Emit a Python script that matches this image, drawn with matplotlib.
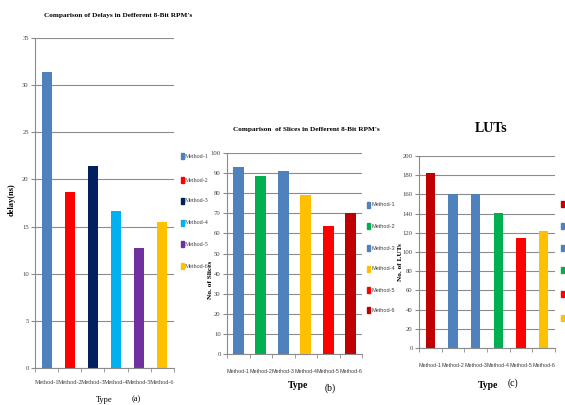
import matplotlib.pyplot as plt
from matplotlib.patches import Rectangle

W, H = 565, 405

methods = ["Method-1", "Method-2", "Method-3", "Method-4", "Method-5", "Method-6"]

# (a) delays
delay = [31.4, 18.7, 21.4, 16.6, 12.7, 15.5]
delay_colors = ["#4F81BD", "#FF0000", "#002060", "#00B0F0", "#7030A0", "#FFC000"]

# (b) slices
slices = [93, 88.5, 91, 79, 63.5, 70]
slice_colors = ["#4F81BD", "#00B050", "#4F81BD", "#FFC000", "#FF0000", "#C00000"]

# (c) LUTs
luts = [182, 160, 160, 141, 115, 122]
lut_colors = ["#C00000", "#4F81BD", "#4F81BD", "#00B050", "#FF0000", "#FFC000"]

serif = "Liberation Serif"
sans = "Liberation Sans"

fig = plt.figure(figsize=(W / 100, H / 100), dpi=100)


def px_axes(left, top, right, bottom):
    return fig.add_axes([left / W, 1 - bottom / H, (right - left) / W, (bottom - top) / H])


def style(ax, ymax, step, tickfont, tfs, pad):
    ax.set_ylim(0, ymax)
    ax.set_xlim(-0.5, 5.5)
    ax.set_yticks(range(0, ymax + 1, step))
    ax.yaxis.grid(True, color="#8c8c8c", linewidth=0.8)
    ax.set_axisbelow(True)
    for s in ["top", "right"]:
        ax.spines[s].set_visible(False)
    for s in ["left", "bottom"]:
        ax.spines[s].set_color("#8c8c8c")
        ax.spines[s].set_linewidth(0.8)
    ax.set_xticks(range(6))
    ax.set_xticklabels(methods, fontsize=tfs, family=tickfont, color="#404040")
    ax.set_xticks([i + 0.5 for i in range(-1, 6)], minor=True)
    ax.tick_params(axis="x", which="major", length=0, pad=pad)
    ax.tick_params(axis="x", which="minor", length=3, color="#8c8c8c")
    ax.tick_params(axis="y", length=3, color="#8c8c8c", labelsize=4.8, pad=1.5,
                   labelcolor="#404040")
    for lab in ax.get_yticklabels():
        lab.set_family(serif)


def legend(x, ys, labels, colors, fs=4.6, font=serif):
    for y, lab, c in zip(ys, labels, colors):
        fig.patches.append(Rectangle((x / W, 1 - (y + 3) / H), 3 / W, 6 / H,
                                     color=c, transform=fig.transFigure))
        fig.text((x + 4) / W, 1 - y / H, lab, fontsize=fs, family=font,
                 va="center", ha="left", color="#404040")


# panel (a)
ax1 = px_axes(35, 38, 174, 368)
ax1.bar(range(6), delay, width=0.43, color=delay_colors)
style(ax1, 35, 5, serif, 4.4, 9)
fig.text(118 / W, 1 - 16 / H, "Comparison of Delays in Defferent 8-Bit RPM's",
         fontsize=5.2, family=serif, ha="center", va="center", fontweight="bold")
fig.text(12 / W, 1 - 200 / H, "delay(ns)", fontsize=6, family=serif,
         rotation=90, ha="center", va="center", fontweight="bold")
fig.text(104 / W, 1 - 400 / H, "Type", fontsize=6, family=serif, ha="center", va="center")
fig.text(136 / W, 1 - 399 / H, "(a)", fontsize=6, family=serif, ha="center", va="center")
legend(181, [156, 180, 201, 223, 244, 266], methods, delay_colors, fs=4.3)

# panel (b)
ax2 = px_axes(227, 153, 362, 354)
ax2.bar(range(6), slices, width=0.5, color=slice_colors)
style(ax2, 100, 10, sans, 3.9, 11)
fig.text(306 / W, 1 - 130 / H, "Comparison  of Slices in Defferent 8-Bit RPM's",
         fontsize=5.2, family=serif, ha="center", va="center", fontweight="bold")
fig.text(210 / W, 1 - 280 / H, "No. of Slices", fontsize=5.3, family=serif,
         rotation=90, ha="center", va="center", fontweight="bold")
fig.text(298 / W, 1 - 386 / H, "Type", fontsize=7, family=serif, ha="center", va="center",
         fontweight="bold")
fig.text(330 / W, 1 - 388 / H, "(b)", fontsize=7, family=serif, ha="center", va="center")
legend(367, [205, 226, 248, 269, 290, 310], methods, slice_colors, fs=4.0, font=sans)

# panel (c)
ax3 = px_axes(419, 156, 555, 348)
ax3.bar(range(6), luts, width=0.4, color=lut_colors)
style(ax3, 200, 20, sans, 3.9, 11)
fig.text(491 / W, 1 - 128 / H, "LUTs", fontsize=10, family=serif, ha="center", va="center",
         fontweight="bold")
fig.text(400 / W, 1 - 262 / H, "No. of LUTs", fontsize=5.2, family=serif,
         rotation=90, ha="center", va="center", fontweight="bold")
fig.text(488 / W, 1 - 385 / H, "Type", fontsize=7, family=serif, ha="center", va="center",
         fontweight="bold")
fig.text(513 / W, 1 - 383 / H, "(c)", fontsize=7, family=serif, ha="center", va="center")
legend(561, [204, 226, 248, 270, 294, 318], methods, lut_colors, fs=4.3, font=sans)

fig.savefig("out.png", dpi=100)
